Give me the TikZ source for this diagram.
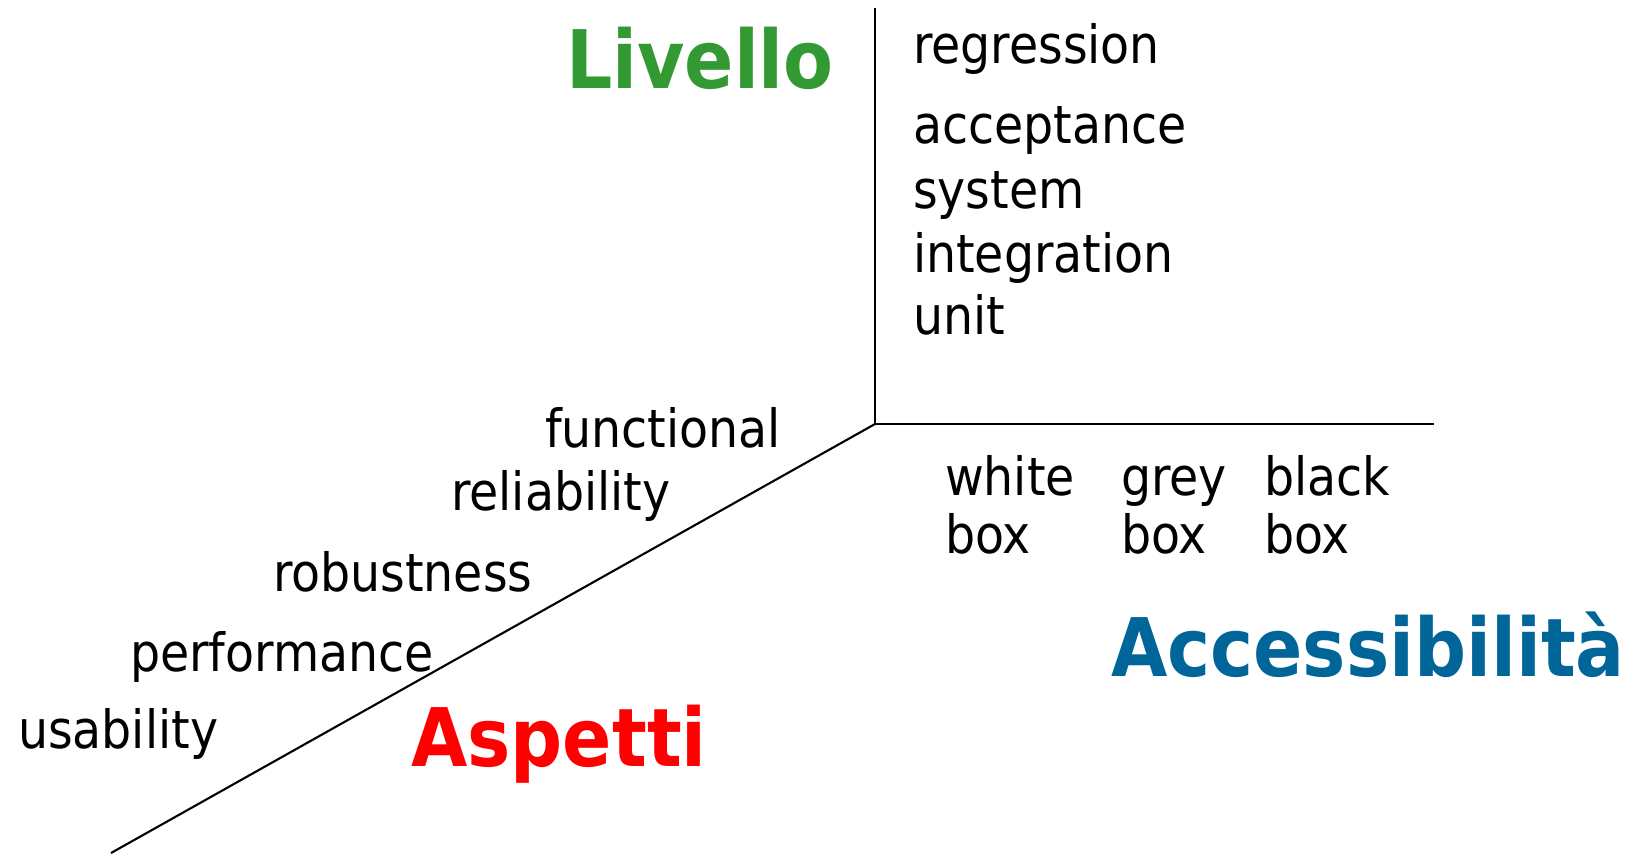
\documentclass[tikz,border=0pt]{standalone}
\usepackage{fontspec}
\setmainfont{DejaVu Sans Condensed}
\usepackage{tikz}
\usepackage{xcolor}
\definecolor{LevelGreen}{HTML}{339933}
\definecolor{AccessBlue}{HTML}{006699}
\definecolor{AspectRed}{HTML}{FF0000}
\tikzstyle{item} = [inner sep=0pt, anchor=base west, align=left, font=\fontsize{15}{16.5}\selectfont]
\tikzstyle{title} = [inner sep=0pt, anchor=base, font=\fontsize{23}{27}\selectfont\bfseries]
\tikzset{every picture/.style={line width=0.6pt}}

\begin{document}
\begin{tikzpicture}
\useasboundingbox (0,0) rectangle (16.32,8.53);
\coordinate (o) at (8.75, 4.29);
\coordinate (top) at (8.75, 8.45);
\coordinate (right) at (14.34, 4.29);
\coordinate (bottom) at (1.11, 0);
\draw (top) -- (o) -- (right);
\draw (o) -- (bottom);
\node[title, text=LevelGreen] (livello) at (7.00, 7.65) {Livello};
\node[title, text=AccessBlue] (acc) at (13.68, 1.77) {Accessibilità};
\node[title, text=AspectRed] (aspetti) at (5.59, 0.87) {Aspetti};
\node[item] (regr) at (9.12, 7.90) {regression};
\node[item] (accept) at (9.12, 7.10) {acceptance};
\node[item] (sys) at (9.12, 6.45) {system};
\node[item] (integ) at (9.12, 5.81) {integration};
\node[item] (unit) at (9.12, 5.19) {unit};
\node[item] (white) at (9.44, 3.00) {white\\box};
\node[item] (grey) at (11.20, 3.00) {grey\\box};
\node[item] (black) at (12.63, 3.00) {black\\box};
\node[item] (func) at (5.44, 4.06) {functional};
\node[item] (rel) at (4.50, 3.43) {reliability};
\node[item] (rob) at (2.72, 2.62) {robustness};
\node[item] (perf) at (1.29, 1.82) {performance};
\node[item] (usab) at (0.17, 1.05) {usability};
\end{tikzpicture}
\end{document}
